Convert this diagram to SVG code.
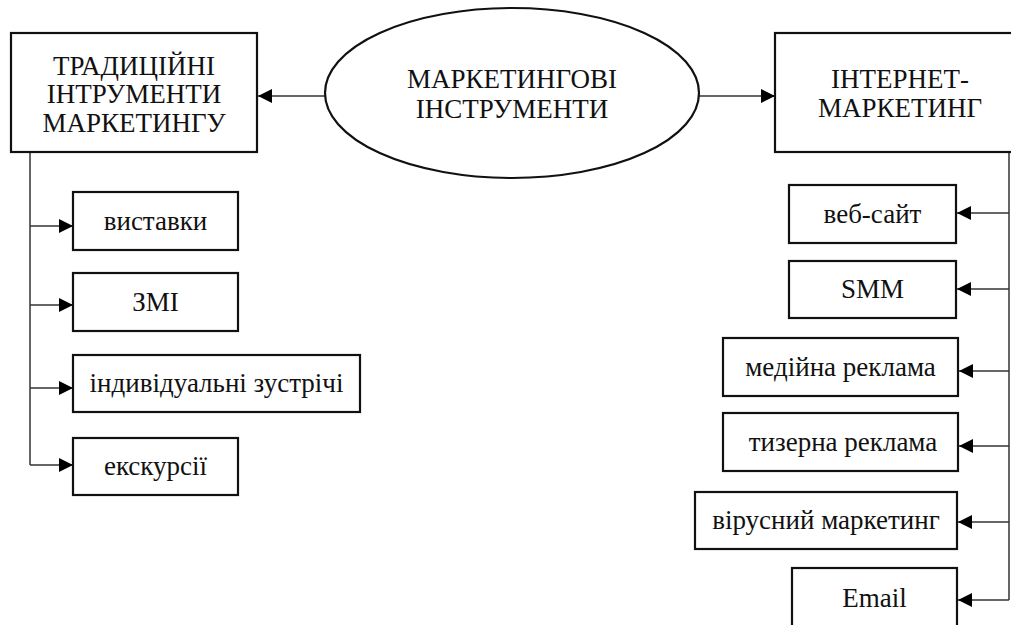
<svg xmlns="http://www.w3.org/2000/svg" width="1011" height="625" viewBox="0 0 1011 625">
<defs>
<marker id="ah" viewBox="0 0 14 14" refX="14" refY="7" markerWidth="14" markerHeight="14" markerUnits="userSpaceOnUse" orient="auto">
<path d="M0,0 L14,7 L0,14 Z" fill="#000"/>
</marker>
</defs>
<rect width="1011" height="625" fill="#fff"/>
<g id="connectors" fill="none" stroke="#333" stroke-width="1.5">
<line x1="326" y1="96" x2="258" y2="96" marker-end="url(#ah)"/>
<line x1="699" y1="96" x2="775" y2="96" marker-end="url(#ah)"/>
<polyline points="30,152 30,465"/>
<line x1="30" y1="226" x2="73" y2="226" marker-end="url(#ah)"/>
<line x1="30" y1="305" x2="73" y2="305" marker-end="url(#ah)"/>
<line x1="30" y1="388" x2="73" y2="388" marker-end="url(#ah)"/>
<line x1="30" y1="465" x2="73" y2="465" marker-end="url(#ah)"/>
<polyline points="1009,152 1009,600"/>
<line x1="1009" y1="213" x2="957" y2="213" marker-end="url(#ah)"/>
<line x1="1009" y1="289" x2="957" y2="289" marker-end="url(#ah)"/>
<line x1="1009" y1="371" x2="959" y2="371" marker-end="url(#ah)"/>
<line x1="1009" y1="446" x2="959" y2="446" marker-end="url(#ah)"/>
<line x1="1009" y1="522" x2="958" y2="522" marker-end="url(#ah)"/>
<line x1="1009" y1="600" x2="958" y2="600" marker-end="url(#ah)"/>
</g>
<g id="nodes" font-family="Liberation Serif" font-size="27" text-anchor="middle">
<g id="center">
<ellipse cx="512" cy="93" rx="187" ry="85" fill="#fff" stroke="#111" stroke-width="2.2"/>
<text x="512" y="88" fill="#111">МАРКЕТИНГОВІ</text>
<text x="512" y="118" fill="#111">ІНСТРУМЕНТИ</text>
</g>
<g id="traditional">
<rect x="11" y="33" width="246" height="119" fill="#fff" stroke="#111" stroke-width="2.2"/>
<text x="134" y="75" fill="#111">ТРАДИЦІЙНІ</text>
<text x="134" y="103" fill="#111">ІНТРУМЕНТИ</text>
<text x="134" y="132" fill="#111">МАРКЕТИНГУ</text>
</g>
<g id="internet">
<rect x="775" y="33" width="250" height="119" fill="#fff" stroke="#111" stroke-width="2.2"/>
<text x="900" y="88" fill="#111">ІНТЕРНЕТ-</text>
<text x="900" y="117" fill="#111">МАРКЕТИНГ</text>
</g>
<g id="vystavky"><rect x="73" y="192" width="165" height="58" fill="#fff" stroke="#111" stroke-width="2.2"/><text x="155.5" y="230" fill="#111">виставки</text></g>
<g id="zmi"><rect x="73" y="273" width="165" height="58" fill="#fff" stroke="#111" stroke-width="2.2"/><text x="155.5" y="311" fill="#111">ЗМІ</text></g>
<g id="zustrichi"><rect x="73" y="355" width="287" height="57" fill="#fff" stroke="#111" stroke-width="2.2"/><text x="216.5" y="392" fill="#111">індивідуальні зустрічі</text></g>
<g id="ekskursii"><rect x="73" y="438" width="165" height="57" fill="#fff" stroke="#111" stroke-width="2.2"/><text x="155.5" y="475" fill="#111">екскурсії</text></g>
<g id="website"><rect x="789" y="185" width="167" height="58" fill="#fff" stroke="#111" stroke-width="2.2"/><text x="872.5" y="223" fill="#111">веб-сайт</text></g>
<g id="smm"><rect x="789" y="261" width="167" height="57" fill="#fff" stroke="#111" stroke-width="2.2"/><text x="872.5" y="298" fill="#111">SMM</text></g>
<g id="media"><rect x="723" y="338" width="235" height="58" fill="#fff" stroke="#111" stroke-width="2.2"/><text x="840.5" y="376" fill="#111">медійна реклама</text></g>
<g id="teaser"><rect x="723" y="413" width="235" height="58" fill="#fff" stroke="#111" stroke-width="2.2"/><text x="843" y="451" fill="#111">тизерна реклама</text></g>
<g id="viral"><rect x="695" y="492" width="262" height="57" fill="#fff" stroke="#111" stroke-width="2.2"/><text x="826" y="529" fill="#111">вірусний маркетинг</text></g>
<g id="email"><rect x="792" y="568" width="165" height="70" fill="#fff" stroke="#111" stroke-width="2.2"/><text x="874.5" y="607" fill="#111">Email</text></g>
</g>
</svg>
